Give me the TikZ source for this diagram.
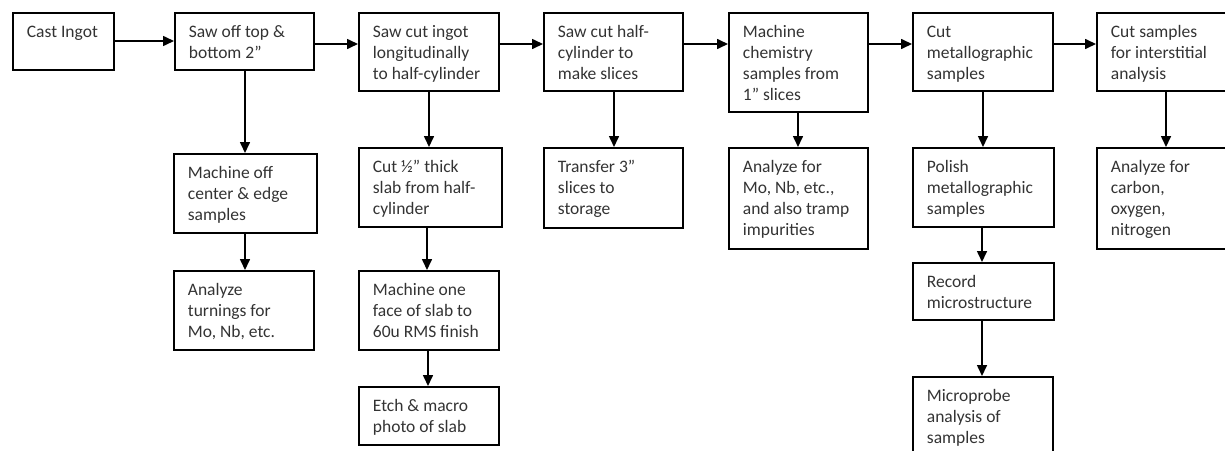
\documentclass[tikz,border=0pt]{standalone}
\usepackage{fontspec}
\setmainfont{Carlito}
\usetikzlibrary{arrows.meta}
\definecolor{txt}{HTML}{333333}
\tikzset{
  box/.style={draw=black, line width=1.8pt, inner sep=0pt, anchor=north west,
    font=\fontsize{17.5}{21}\selectfont, text=txt},
  arr/.style={line width=1.6pt, -{Triangle[length=11pt,width=10pt]}}
}
\newcommand\bx[6]{%
  \node[box] (#1) at (#2,#3) {\parbox[b][#5pt][t]{#4pt}{\raggedright\leftskip=14pt\rightskip=0pt plus 1fil\rule{0pt}{25pt}#6\par}};}
\begin{document}
\begin{tikzpicture}[x=1pt,y=-1pt]
\useasboundingbox (0,0) rectangle (1225,450);
\clip (0,0) rectangle (1225,450);
% top row
\bx{b1}{12}{12}{101}{57}{Cast Ingot}
\bx{b2}{174}{12}{139}{57}{Saw off top \&\\bottom 2”}
\bx{b3}{358}{12}{140}{78}{Saw cut ingot\\longitudinally\\to half-cylinder}
\bx{b4}{543}{12}{139}{78}{Saw cut half-\\cylinder to\\make slices}
\bx{b5}{728}{12}{139}{99}{Machine\\chemistry\\samples from\\1” slices}
\bx{b6}{912}{12}{140}{78}{Cut\\metallographic\\samples}
\bx{b7}{1096}{12}{140}{78}{Cut samples\\for interstitial\\analysis}
% second row
\bx{c2}{173}{153}{143}{79}{Machine off\\center \& edge\\samples}
\bx{c3}{358}{147}{143}{79}{Cut ½” thick\\slab from half-\\cylinder}
\bx{c4}{543}{147}{139}{80}{Transfer 3”\\slices to\\storage}
\bx{c5}{728}{147}{139}{101}{Analyze for\\Mo, Nb, etc.,\\and also tramp\\impurities}
\bx{c6}{912}{147}{141}{79}{Polish\\metallographic\\samples}
\bx{c7}{1096}{147}{140}{101}{Analyze for\\carbon,\\oxygen,\\nitrogen}
% third row
\bx{d2}{173}{270}{140}{79}{Analyze\\turnings for\\Mo, Nb, etc.}
\bx{d3}{358}{270}{140}{79}{Machine one\\face of slab to\\60u RMS finish}
\bx{d6}{912}{262}{141}{57}{Record\\microstructure}
% fourth row
\bx{e3}{358}{386}{140}{58}{Etch \& macro\\photo of slab}
\bx{e6}{912}{376}{140}{100}{Microprobe\\analysis of\\samples}
% horizontal connectors
\draw[arr] (b1.east |- 0,41) -- (b2.west |- 0,41);
\draw[arr] (b2.east |- 0,44) -- (b3.west |- 0,44);
\draw[arr] (b3.east |- 0,44) -- (b4.west |- 0,44);
\draw[arr] (b4.east |- 0,44) -- (b5.west |- 0,44);
\draw[arr] (b5.east |- 0,44) -- (b6.west |- 0,44);
\draw[arr] (b6.east |- 0,44) -- (b7.west |- 0,44);
% vertical connectors
\draw[arr] (b2.south -| 245,0) -- (c2.north -| 245,0);
\draw[arr] (c2.south -| 245,0) -- (d2.north -| 245,0);
\draw[arr] (b3.south -| 429,0) -- (c3.north -| 429,0);
\draw[arr] (c3.south -| 427,0) -- (d3.north -| 427,0);
\draw[arr] (d3.south -| 428,0) -- (e3.north -| 428,0);
\draw[arr] (b4.south -| 614,0) -- (c4.north -| 614,0);
\draw[arr] (b5.south -| 798,0) -- (c5.north -| 798,0);
\draw[arr] (b6.south -| 983,0) -- (c6.north -| 983,0);
\draw[arr] (c6.south -| 982,0) -- (d6.north -| 982,0);
\draw[arr] (d6.south -| 982,0) -- (e6.north -| 982,0);
\draw[arr] (b7.south -| 1166,0) -- (c7.north -| 1166,0);
\end{tikzpicture}
\end{document}
